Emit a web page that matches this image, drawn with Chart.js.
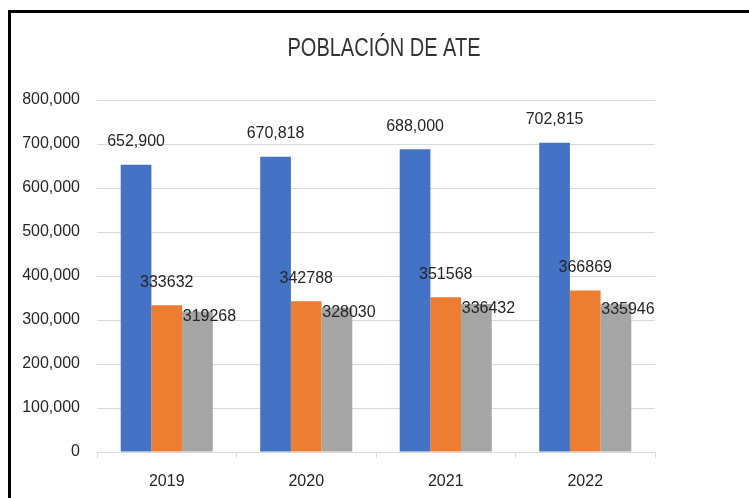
<!DOCTYPE html>
<html>
<head>
<meta charset="utf-8">
<script src="https://cdn.jsdelivr.net/npm/chart.js@4/dist/chart.umd.min.js"></script>
<style>
  html, body { margin: 0; padding: 0; background: #fff; }
  #wrap { position: relative; width: 749px; height: 498px; overflow: hidden; }
  #chart { position: absolute; left: 0; top: 0; }
  #frame {
    position: absolute; left: 8px; top: 10px; width: 760px; height: 520px;
    border-left: 3px solid #000; border-top: 3px solid #000;
    pointer-events: none;
  }
</style>
</head>
<body>
<div id="wrap">
  <canvas id="chart" width="749" height="498"></canvas>
  <div id="frame"></div>
</div>
<script>
var years = ["2019", "2020", "2021", "2022"];
var total = [652900, 670818, 688000, 702815];
var hombres = [333632, 342788, 351568, 366869];
var mujeres = [319268, 328030, 336432, 335946];
var yTicks = [0, 100000, 200000, 300000, 400000, 500000, 600000, 700000, 800000];
var titleText = "POBLACIÓN DE ATE";

var textColor = "#262626";
var font = "'Liberation Sans', Arial, sans-serif";

// narrow title, the built-in title centres over the padded box so draw it here
var narrowTitle = {
    id: "narrowTitle",
    afterDraw: function(chart) {
        var ctx = chart.ctx;
        ctx.save();
        ctx.font = "25px " + font;
        ctx.fillStyle = "#333333";
        ctx.textAlign = "center";
        ctx.textBaseline = "middle";
        ctx.translate(384, 49);
        ctx.scale(0.8, 1);
        ctx.fillText(titleText, 0, 0);
        ctx.restore();
    }
};

// labels sit above the bar end, the grey ones are nudged right like in the original
var valueLabels = {
    id: "valueLabels",
    afterDatasetsDraw: function(chart) {
        var ctx = chart.ctx;
        var offsets = [
            { dx: 0, dy: -23, comma: true },
            { dx: 0, dy: -23, comma: false },
            { dx: 12, dy: 5, comma: false }
        ];
        ctx.save();
        ctx.font = "16px " + font;
        ctx.fillStyle = textColor;
        ctx.textAlign = "center";
        ctx.textBaseline = "middle";
        chart.data.datasets.forEach(function(ds, i) {
            var meta = chart.getDatasetMeta(i);
            meta.data.forEach(function(bar, j) {
                var v = ds.data[j];
                var txt = offsets[i].comma ? v.toLocaleString("en-US") : String(v);
                ctx.fillText(txt, bar.x + offsets[i].dx, bar.y + offsets[i].dy);
            });
        });
        ctx.restore();
    }
};

var ctx = document.getElementById("chart");
var chart = new Chart(ctx, {
    type: "bar",
    data: {
        labels: years,
        datasets: [
            { label: "Total", data: total, backgroundColor: "#4472C4" },
            { label: "Hombres", data: hombres, backgroundColor: "#ED7D31" },
            { label: "Mujeres", data: mujeres, backgroundColor: "#A5A5A5" }
        ]
    },
    options: {
        responsive: false,
        animation: false,
        devicePixelRatio: 1,
        categoryPercentage: 0.66,
        barPercentage: 1.0,
        layout: { padding: { left: 0, right: 94, top: 100, bottom: 0 } },
        plugins: {
            legend: { display: false },
            tooltip: { enabled: false },
            title: { display: false }
        },
        scales: {
            x: {
                afterFit: function(scale) { scale.height = 46; },
                grid: { offset: true, drawOnChartArea: false, drawTicks: true, tickLength: 6, color: "#d9d9d9" },
                border: { color: "#d9d9d9" },
                ticks: { color: textColor, padding: 14, font: { family: font, size: 16 } }
            },
            y: {
                min: 0,
                max: 800000,
                afterBuildTicks: function(scale) {
                    scale.ticks = yTicks.map(function(v) { return { value: v }; });
                },
                afterFit: function(scale) { scale.width = 97; },
                grid: { color: "#d9d9d9", drawTicks: false },
                border: { display: false },
                ticks: {
                    color: textColor,
                    padding: 17,
                    font: { family: font, size: 16 },
                    callback: function(v) { return v.toLocaleString("en-US"); }
                }
            }
        }
    },
    plugins: [valueLabels, narrowTitle]
});
</script>
</body>
</html>
